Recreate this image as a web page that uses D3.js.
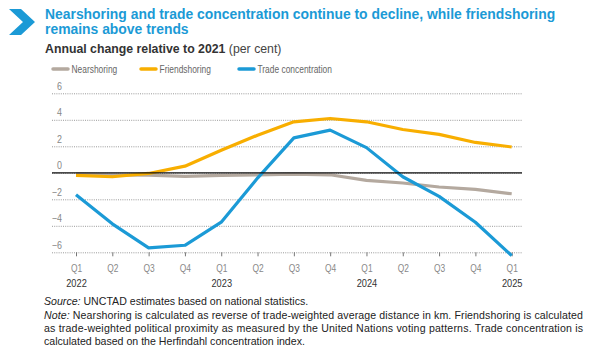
<!DOCTYPE html>
<html>
<head>
<meta charset="utf-8">
<script src="https://cdn.jsdelivr.net/npm/d3@7"></script>
<style>
  body { margin: 0; background: #fff; }
  svg { display: block; font-family: "Liberation Sans", Arial, sans-serif; }
</style>
</head>
<body>
<div id="chart"></div>
<script>
// Datos
const quarters = ["2022Q1", "2022Q2", "2022Q3", "2022Q4", "2023Q1", "2023Q2", "2023Q3",
  "2023Q4", "2024Q1", "2024Q2", "2024Q3", "2024Q4", "2025Q1"];
const quarterLabels = ["Q1", "Q2", "Q3", "Q4", "Q1", "Q2", "Q3", "Q4", "Q1", "Q2", "Q3", "Q4", "Q1"];
const yearLabels = ["2022", "", "", "", "2023", "", "", "", "2024", "", "", "", "2025"];
const nearshoring = [-0.1, -0.15, -0.18, -0.27, -0.2, -0.16, -0.1, -0.15, -0.57, -0.77, -1.07, -1.25, -1.58];
const friendshoring = [-0.2, -0.3, -0.05, 0.5, 1.7, 2.84, 3.85, 4.1, 3.85, 3.27, 2.9, 2.29, 1.95];
const tradeConcentration = [-1.65, -3.85, -5.67, -5.47, -3.73, -0.4, 2.64, 3.22, 1.9, -0.3, -1.78, -3.73, -6.25];
const yTicks = [-6, -4, -2, 0, 2, 4, 6];

const seriesNames = ["Nearshoring", "Friendshoring", "Trade concentration"];
const seriesValues = [nearshoring, friendshoring, tradeConcentration];
const colors = ["#b4a99f", "#f8ae00", "#1b9ad6"];

// Configuración
const svgWidth = 602;
const svgHeight = 353;

const svg = d3.select("#chart")
  .append("svg")
  .attr("width", svgWidth)
  .attr("height", svgHeight);

const x = d3.scalePoint()
  .domain(quarters)
  .range([76, 511.7]);

const y = d3.scaleLinear()
  .domain([-6, 6])
  .range([252.3, 93.3]);

const gridLeft = 52, gridRight = 522;

// texto condensado (no hay fuente narrow instalada)
function condense(sel, k) {
  sel.each(function() {
    const w = this.getComputedTextLength();
    if (w > 0) d3.select(this).attr("textLength", w * k).attr("lengthAdjust", "spacingAndGlyphs");
  });
}

// Encabezado
svg.append("path")
  .attr("d", "M9,9 L21,9 L35,22 L21,35 L9,35 L23,22 Z")
  .attr("fill", "#1b9ad6");

const title = svg.append("text")
  .attr("fill", "#1b9ad6")
  .attr("font-weight", "bold")
  .attr("font-size", 13.9);
title.append("tspan").attr("x", 45).attr("y", 19)
  .text("Nearshoring and trade concentration continue to decline, while friendshoring");
title.append("tspan").attr("x", 45).attr("y", 34)
  .text("remains above trends");

const subtitle = svg.append("text")
  .attr("x", 45).attr("y", 53)
  .attr("fill", "#333")
  .attr("font-size", 12.3);
subtitle.append("tspan").attr("font-weight", "bold").text("Annual change relative to 2021 ");
subtitle.append("tspan").attr("fill", "#444").text("(per cent)");

// Leyenda
const legendX = [53, 141, 239];
const legend = svg.append("g")
  .selectAll("g")
  .data(seriesNames)
  .enter().append("g")
  .attr("transform", (d, i) => `translate(${legendX[i]}, 69)`);

legend.append("line")
  .attr("x1", 0).attr("x2", 15)
  .attr("stroke", (d, i) => colors[i])
  .attr("stroke-width", 3.5)
  .attr("stroke-linecap", "round");

legend.append("text")
  .attr("x", 18.5)
  .attr("dy", "0.35em")
  .attr("font-size", 10.5)
  .attr("fill", "#666")
  .text(d => d)
  .call(condense, 0.8);

// Ejes
const yAxis = svg.append("g")
  .attr("transform", `translate(${gridLeft}, 0)`)
  .call(d3.axisRight(y).tickValues(yTicks).tickSize(gridRight - gridLeft));
yAxis.select(".domain").remove();
yAxis.selectAll("line")
  .attr("stroke", "#999")
  .attr("stroke-dasharray", "1,1.2");
yAxis.selectAll("text")
  .attr("x", 10)
  .attr("dy", -4)
  .attr("text-anchor", "end")
  .attr("font-size", 10.5)
  .attr("font-family", null)
  .attr("fill", "#888")
  .call(condense, 0.85);

const xAxis = svg.append("g")
  .attr("transform", `translate(0, ${y(-6)})`)
  .call(d3.axisBottom(x).tickSize(4).tickPadding(8).tickFormat((d, i) => quarterLabels[i]));
xAxis.select(".domain").remove();
xAxis.selectAll("line").attr("stroke", "#777");
xAxis.selectAll("text")
  .attr("font-size", 10.5)
  .attr("font-family", null)
  .attr("fill", "#888")
  .call(condense, 0.8);

const yearAxis = svg.append("g")
  .attr("transform", `translate(0, ${y(-6) + 19})`)
  .call(d3.axisBottom(x).tickSize(0).tickPadding(8).tickFormat((d, i) => yearLabels[i]));
yearAxis.select(".domain").remove();
yearAxis.selectAll("text")
  .attr("font-size", 10.5)
  .attr("font-family", null)
  .attr("fill", "#333")
  .call(condense, 0.88);

// Lineas
const line = d3.line()
  .x((d, i) => x(quarters[i]))
  .y(d => y(d));

svg.append("g")
  .selectAll("path")
  .data(seriesValues)
  .enter().append("path")
  .attr("d", d => line(d))
  .attr("fill", "none")
  .attr("stroke", (d, i) => colors[i])
  .attr("stroke-width", 3.2)
  .attr("stroke-linejoin", "round");

// Linea cero
svg.append("line")
  .attr("x1", gridLeft).attr("x2", gridRight)
  .attr("y1", y(0)).attr("y2", y(0))
  .attr("stroke", "#111")
  .attr("stroke-width", 1.2);

// Notas
const notes = svg.append("g")
  .attr("font-size", 10.6)
  .attr("fill", "#222");

const src = notes.append("text").attr("x", 44).attr("y", 305);
src.append("tspan").attr("font-style", "italic").text("Source:");
src.append("tspan").text(" UNCTAD estimates based on national statistics.");

const noteLines = [
  ["Note:", " Nearshoring is calculated as reverse of trade-weighted average distance in km. Friendshoring is calculated", true],
  ["", "as trade-weighted political proximity as measured by the United Nations voting patterns. Trade concentration is", true],
  ["", "calculated based on the Herfindahl concentration index.", false]
];
noteLines.forEach((l, i) => {
  const t = notes.append("text")
    .attr("x", 44)
    .attr("y", 318.5 + i * 13.3);
  if (l[2]) t.attr("textLength", 539).attr("lengthAdjust", "spacing");
  if (l[0]) t.append("tspan").attr("font-style", "italic").text(l[0]);
  t.append("tspan").text(l[1]);
});
</script>
</body>
</html>
